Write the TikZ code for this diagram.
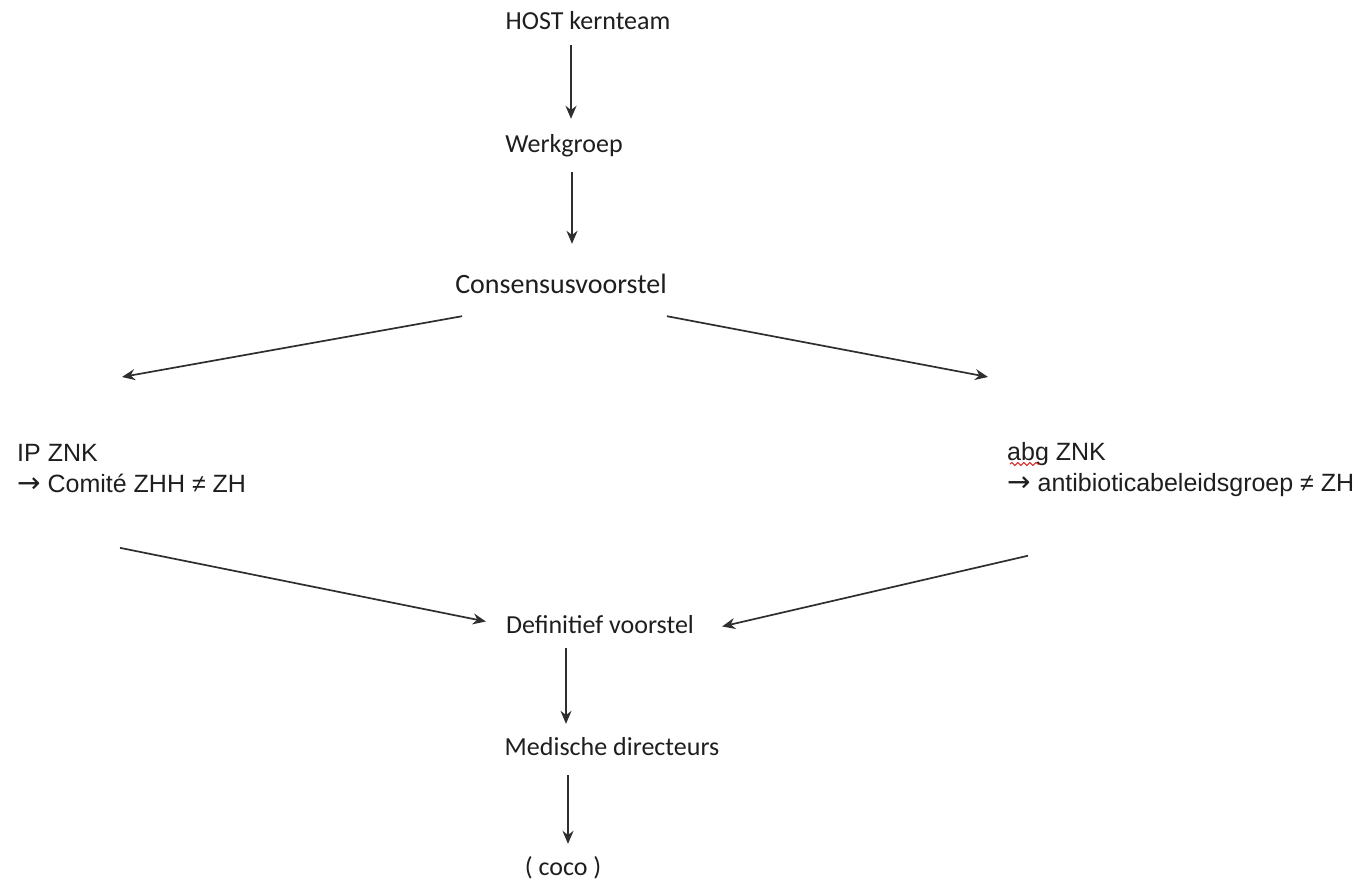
\documentclass[tikz,border=0pt]{standalone}
\usepackage{fontspec}
\setmainfont{Carlito}
\newfontfamily\flarial{Liberation Sans}
\newfontfamily\flarrow{DejaVu Sans}
\usetikzlibrary{arrows.meta,calc,decorations.pathmorphing}
\definecolor{flink} {HTML}{1E1E1E}
\definecolor{flline}{HTML}{2E2E2E}
\definecolor{flred} {HTML}{D42A2A}
\tikzset{
  flstep/.style={inner sep=0pt, anchor=base, text=flink,
                 font=\fontsize{26}{30}\selectfont, text height=18pt, text depth=5pt},
  flbig/.style={flstep, font=\fontsize{28}{32}\selectfont},
  flside/.style={inner sep=0pt, anchor=north west, align=left, text=flink,
                 font=\flarial\fontsize{25}{31}\selectfont},
  fledge/.style={-{Stealth[length=13pt,width=11pt]}, draw=flline, line width=1.7pt},
  flspell/.style={draw=flred, line width=1pt, decorate,
                  decoration={snake, amplitude=1.5pt, segment length=6pt}},
}
\newcommand{\flto}{{\flarrow\fontsize{28}{31}\selectfont →}}
\begin{document}
\begin{tikzpicture}[x=1pt,y=-1pt]
  \useasboundingbox (0,0) rectangle (1372,880);
  \node[flstep] (host) at (588,30)  {HOST kernteam};
  \node[flstep] (werk) at (564,152) {Werkgroep};
  \node[flbig]  (cons) at (561,293) {Consensusvoorstel};
  \node[flside] (ip)   at (17,444)   {IP ZNK\\\flto\ Comité ZHH ≠ ZH};
  \node[flside] (abg)  at (1007,442) {abg ZNK\\\flto\ antibioticabeleidsgroep ≠ ZH};
  \node[flstep] (def)  at (600,633) {Definitief voorstel};
  \node[flstep] (med)  at (612,755) {Medische directeurs};
  \node[flstep] (coco) at (563,875) {( coco )};

  \draw[fledge] ($(host.south)+(-17,10)$) -- ($(werk.north)+(7,-15)$);
  \draw[fledge] ($(werk.south)+(8,15)$) -- ($(cons.north)+(11,-31)$);
  \draw[fledge] ($(cons.south west)+(7,18)$) -- ($(ip.north west)+(105,-67)$);
  \draw[fledge] ($(cons.south east)+(0,18)$) -- ($(abg.north west)+(-19,-65)$);
  \draw[fledge] ($(ip.south west)+(103,55)$) -- ($(def.west)+(-20,-5)$);
  \draw[fledge] ($(abg.south west)+(21,59)$) -- ($(def.east)+(28,0)$);
  \draw[fledge] ($(def.south)+(-34,10)$) -- ($(med.north)+(-46,-13)$);
  \draw[fledge] ($(med.south)+(-44,15)$) -- ($(coco.north)+(5,-13)$);

  % spelling mark under abg
  \draw[flspell] ($(abg.north west)+(3,22)$) -- ++(30,0);
\end{tikzpicture}
\end{document}
